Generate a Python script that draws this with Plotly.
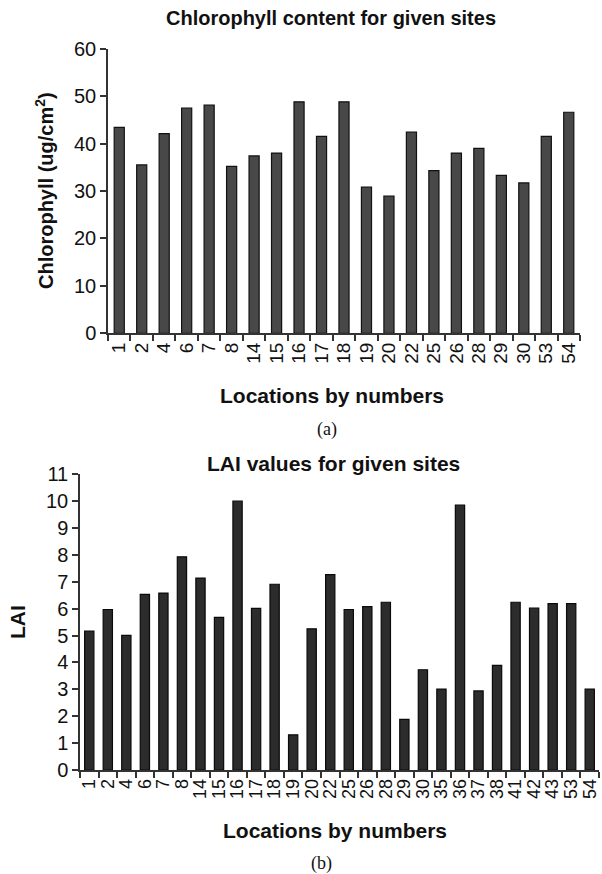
import plotly.graph_objects as go

# ---- data ----
chl_sites = ["1", "2", "4", "6", "7", "8", "14", "15", "16", "17", "18", "19", "20",
             "22", "25", "26", "28", "29", "30", "53", "54"]
chl_values = [43.4, 35.5, 42.1, 47.5, 48.1, 35.2, 37.4, 38.0, 48.8, 41.5, 48.8, 30.8, 28.9,
              42.4, 34.3, 38.0, 39.0, 33.3, 31.7, 41.5, 46.6]

lai_sites = ["1", "2", "4", "6", "7", "8", "14", "15", "16", "17", "18", "19", "20", "22",
             "25", "26", "28", "29", "30", "35", "36", "37", "38", "41", "42", "43", "53", "54"]
lai_values = [5.17, 5.97, 5.01, 6.53, 6.58, 7.93, 7.14, 5.68, 10.0, 6.01, 6.91, 1.31, 5.25, 7.27,
              5.97, 6.08, 6.24, 1.88, 3.73, 3.01, 9.85, 2.94, 3.89, 6.24, 6.02, 6.19, 6.19, 3.01]

chl_ticks = [0, 10, 20, 30, 40, 50, 60]
lai_ticks = list(range(0, 12))

W, H = 602, 874
FONT = "Liberation Sans, Arial, Helvetica, sans-serif"

def px(x):
    return x / W

def py(y):
    return 1 - y / H

fig = go.Figure()
fig.add_trace(go.Bar(x=chl_sites, y=chl_values, width=0.45,
                     marker=dict(color="#484848", line=dict(color="#111111", width=1.2)),
                     xaxis="x", yaxis="y", showlegend=False))
fig.add_trace(go.Bar(x=lai_sites, y=lai_values, width=0.5,
                     marker=dict(color="#2c2c2c", line=dict(color="#0a0a0a", width=1.2)),
                     xaxis="x2", yaxis="y2", showlegend=False))

axis_common = dict(showgrid=False, zeroline=False, showline=True, linecolor="#333333",
                   linewidth=1.5, ticks="outside", tickcolor="#333333", tickwidth=1.5,
                   ticklen=6, automargin=False)

fig.update_layout(
    width=W, height=H,
    margin=dict(l=0, r=0, t=0, b=0),
    paper_bgcolor="white", plot_bgcolor="white",
    font=dict(family=FONT, color="#111111"),
    xaxis=dict(domain=[px(108), px(580)], anchor="y", type="category",
               categoryorder="array", categoryarray=chl_sites,
               tickmode="array", tickvals=chl_sites, ticktext=chl_sites,
               tickson="boundaries", tickangle=-90, tickfont=dict(size=19),
               **axis_common),
    yaxis=dict(domain=[py(333.3), py(48.7)], anchor="x", range=[0, 60],
               tickvals=chl_ticks, tickfont=dict(size=20), **axis_common),
    xaxis2=dict(domain=[px(80), px(599)], anchor="y2", type="category",
                categoryorder="array", categoryarray=lai_sites,
                tickmode="array", tickvals=lai_sites, ticktext=lai_sites,
                tickson="boundaries", tickangle=-90, tickfont=dict(size=18),
                **axis_common),
    yaxis2=dict(domain=[py(770), py(474.3)], anchor="x2", range=[0, 11],
                tickvals=lai_ticks, tickfont=dict(size=20), **axis_common),
)

bold = dict(family=FONT, color="#111111")
ann = [
    dict(text="<b>Chlorophyll content for given sites</b>", x=px(331), y=py(18),
         font=dict(size=20, **bold)),
    dict(text="<b>Chlorophyll (ug/cm<sup>2</sup>)</b>", x=px(44), y=py(191),
         textangle=-90, font=dict(size=20, **bold)),
    dict(text="<b>Locations by numbers</b>", x=px(332), y=py(395),
         font=dict(size=21, **bold)),
    dict(text="(a)", x=px(327), y=py(429),
         font=dict(size=18, family="Liberation Serif, Times New Roman, serif", color="#111111")),
    dict(text="<b>LAI values for given sites</b>", x=px(333), y=py(463),
         font=dict(size=21, **bold)),
    dict(text="<b>LAI</b>", x=px(17), y=py(622),
         textangle=-90, font=dict(size=21, **bold)),
    dict(text="<b>Locations by numbers</b>", x=px(335), y=py(830),
         font=dict(size=21, **bold)),
    dict(text="(b)", x=px(322), y=py(863),
         font=dict(size=18, family="Liberation Serif, Times New Roman, serif", color="#111111")),
]
for a in ann:
    fig.add_annotation(xref="paper", yref="paper", showarrow=False,
                       xanchor="center", yanchor="middle", **a)

fig.write_html("out.html")
